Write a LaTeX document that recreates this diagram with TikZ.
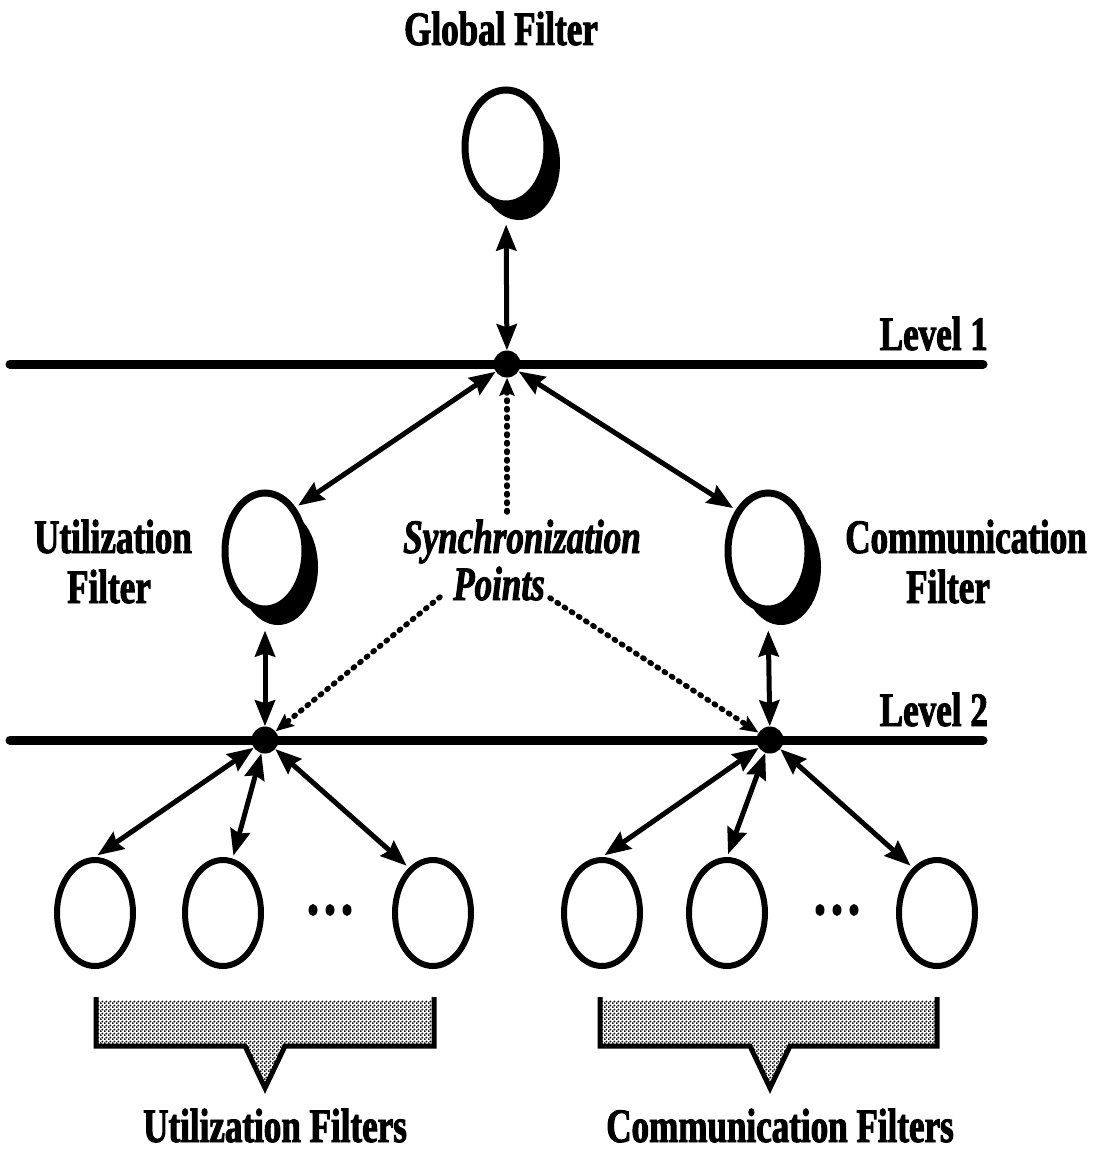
\documentclass[tikz,border=0pt]{standalone}
\usepackage{fontspec}
\setmainfont{Liberation Serif}[FakeStretch=0.73, BoldFeatures={FakeBold=2}, BoldItalicFeatures={FakeBold=2}]
\usetikzlibrary{arrows.meta,shapes.geometric,shadows,patterns}

% fine dot screen for the callout boxes
\pgfdeclarepatternformonly{screen}{\pgfpointorigin}{\pgfqpoint{4pt}{4pt}}{\pgfqpoint{4pt}{4pt}}{%
  \pgfpathcircle{\pgfqpoint{1pt}{1pt}}{1.25pt}%
  \pgfpathcircle{\pgfqpoint{3pt}{3pt}}{1.25pt}%
  \pgfusepath{fill}}

\begin{document}
\begin{tikzpicture}[x=1pt,y=-1pt,
  lbl/.style={font=\fontsize{48}{52}\selectfont\bfseries, inner sep=0pt, anchor=base},
  ilbl/.style={lbl, font=\fontsize{48}{52}\selectfont\bfseries\itshape},
  filter/.style={ellipse, draw, line width=7pt, fill=white, inner sep=0pt,
    minimum width=80pt, minimum height=116pt,
    drop shadow={shadow xshift=13pt, shadow yshift=-16pt, opacity=1, fill=black}},
  leaf/.style={ellipse, draw, line width=6pt, fill=white, inner sep=0pt,
    minimum width=76pt, minimum height=106pt},
  syncpt/.style={circle, fill=black, minimum size=27pt, inner sep=0pt},
  level/.style={line width=9pt, line cap=round},
  link/.style={line width=5pt,
    {Stealth[length=26pt 0 0,width=20pt 0 0,inset=3pt 0]}-{Stealth[length=26pt 0 0,width=20pt 0 0,inset=3pt 0]}},
  hint/.style={line width=5.5pt, line cap=round, dash pattern=on 1.5pt off 7pt,
    -{Stealth[length=18pt 0 0,width=15pt 0 0,inset=3pt 0]}},
  tag/.style={pattern=screen, pattern color=black},
  tagedge/.style={line width=5pt, line join=miter},
  ell/.style={fill=black}
]
\useasboundingbox (0,0) rectangle (1098,1156);

% level bars
\draw[level] (10,364) -- (983,364);
\draw[level] (10,740) -- (983,740);
\node[lbl, anchor=base east] (lv1) at (988,350) {Level 1};
\node[lbl, anchor=base east] (lv2) at (988,726) {Level 2};

% synchronization points
\node[syncpt] (d1) at (507,364) {};
\node[syncpt] (d2) at (265,740) {};
\node[syncpt] (d3) at (770,740) {};

% filters with shadows
\node[lbl] (gt) at (501,45) {Global Filter};
\node[filter, minimum width=82pt, minimum height=114pt] (g) at (506,147) {};
\node[filter] (u) at (265,551) {};
\node[filter] (c) at (768,551) {};

\node[lbl] (ut1) at (113,553) {Utilization};
\node[lbl] (ut2) at (109,603) {Filter};
\node[lbl] (ct1) at (966,553) {Communication};
\node[lbl] (ct2) at (948,603) {Filter};

\node[ilbl] (s1) at (522,553) {Synchronization};
\node[ilbl] (s2) at (499,600) {Points};

% leaf filters
\node[leaf] (b1) at (95,913) {};
\node[leaf] (b2) at (223,913) {};
\node[leaf] (b3) at (433,913) {};
\node[leaf] (e1) at (602,913) {};
\node[leaf] (e2) at (727,913) {};
\node[leaf] (e3) at (937,913) {};

\fill[ell] (313,910) ellipse [x radius=4.5, y radius=6];
\fill[ell] (330,910) ellipse [x radius=4.5, y radius=6];
\fill[ell] (347,910) ellipse [x radius=4.5, y radius=6];
\fill[ell] (820,910) ellipse [x radius=4.5, y radius=6];
\fill[ell] (837,910) ellipse [x radius=4.5, y radius=6];
\fill[ell] (854,910) ellipse [x radius=4.5, y radius=6];

% connectors
\draw[link, shorten <=17pt] (g.south) -- (d1);
\draw[link, shorten >=3pt] (d1) -- (u.55);
\draw[link, shorten >=3pt] (d1) -- (c.128);
\draw[link, shorten <=18pt] (u.south) -- (d2);
\draw[link, shorten <=18pt] (c.south) -- (d3);
\draw[link, shorten >=3pt] (d2) -- (b1.north);
\draw[link, shorten >=3pt] (d2) -- (b2.80);
\draw[link, shorten >=3pt] (d2) -- (b3.118);
\draw[link, shorten >=3pt] (d3) -- (e1.north);
\draw[link, shorten >=3pt] (d3) -- (e2.north);
\draw[link, shorten >=3pt] (d3) -- (e3.118);

% pointers from the label
\coordinate (h1) at (507,512);
\coordinate (h2) at (440,597);
\coordinate (h3) at (550,598);
\draw[hint] (h1) -- (d1);
\draw[hint] (h2) -- (d2);
\draw[hint] (h3) -- (d3);

% group callouts
\fill[tag] (96,1000) -- (96,1046) -- (245,1046) -- (265,1088) -- (285,1046) -- (434,1046) -- (434,1000) -- cycle;
\draw[tagedge] (96,997) -- (96,1046) -- (245,1046) -- (265,1088) -- (285,1046) -- (434,1046) -- (434,997);
\fill[tag] (600,1000) -- (600,1046) -- (750,1046) -- (770,1088) -- (790,1046) -- (937,1046) -- (937,1000) -- cycle;
\draw[tagedge] (600,997) -- (600,1046) -- (750,1046) -- (770,1088) -- (790,1046) -- (937,1046) -- (937,997);

\node[lbl] (gu) at (275,1142) {Utilization Filters};
\node[lbl] (gc) at (780,1142) {Communication Filters};
\end{tikzpicture}
\end{document}
